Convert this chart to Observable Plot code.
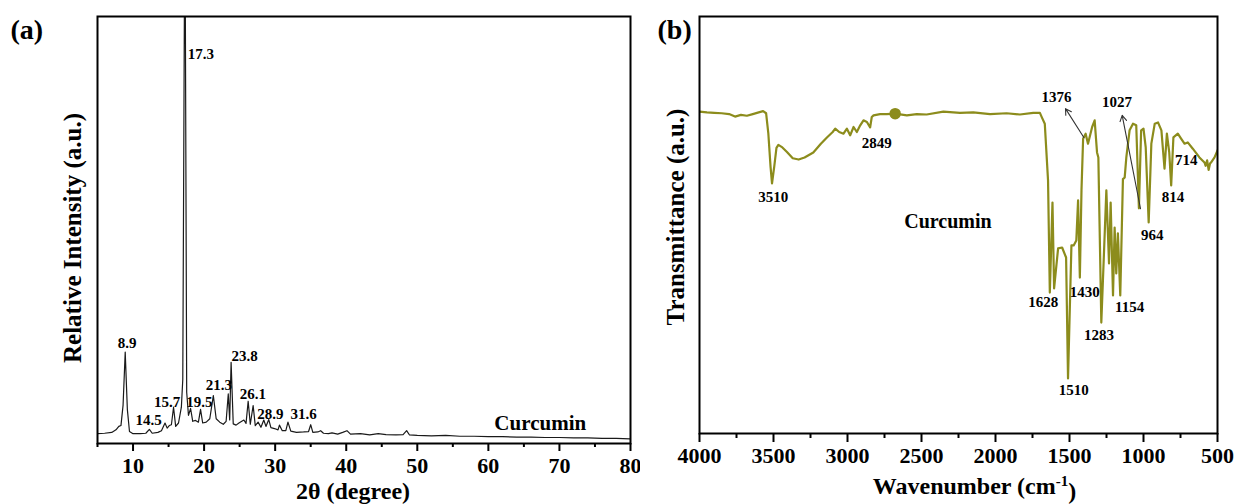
<!DOCTYPE html>
<html>
<head>
<meta charset="utf-8">
<script src="https://cdn.jsdelivr.net/npm/d3@7"></script>
<script src="https://cdn.jsdelivr.net/npm/@observablehq/plot@0.6"></script>
<style>
  html, body { margin: 0; padding: 0; background: #fff; }
  #wrap { position: relative; width: 1238px; height: 504px; overflow: hidden; background: #fff; }
  #pa { position: absolute; left: 0; top: 0; }
  #pb { position: absolute; left: 640px; top: 0; }
</style>
</head>
<body>
<div id="wrap"><div id="pa"></div><div id="pb"></div></div>
<script>
// ---------- (a) XRD ----------
const xrdTheta = [5, 6, 7, 7.6, 8.0, 8.3, 8.6, 8.9, 9.2, 9.5, 10, 11, 11.8, 12.3, 12.7, 13.5, 14.0, 14.5, 14.8, 15.1, 15.4, 15.7, 16.0, 16.4, 16.8, 17.0, 17.3, 17.55, 17.8, 18.1, 18.4, 18.8, 19.2, 19.5, 19.8, 20.3, 20.8, 21.3, 21.7, 22.2, 22.7, 23.1, 23.4, 23.6, 23.8, 24.1, 24.5, 24.9, 25.3, 25.6, 25.9, 26.2, 26.5, 26.9, 27.2, 27.6, 28.0, 28.4, 28.7, 29.1, 29.4, 29.9, 30.4, 30.6, 31.0, 31.5, 31.8, 32.2, 33.0, 34.0, 34.7, 35.0, 35.3, 36.0, 36.4, 36.8, 37.5, 38.0, 38.8, 39.5, 40.1, 40.6, 42.0, 43.3, 44.5, 45.6, 47.0, 48.0, 48.5, 48.9, 50, 52, 54, 56, 58, 60, 62, 64, 66, 68, 70, 72, 74, 76, 78, 80];
const xrdIntensity = [2.3, 2.4, 2.6, 3.2, 4.0, 4.2, 9.0, 21.4, 8.0, 2.8, 2.3, 2.3, 2.4, 3.3, 2.4, 2.6, 3.0, 4.8, 3.6, 4.2, 4.4, 8.5, 4.0, 4.8, 8.5, 15, 130, 12, 6.6, 8.2, 5.2, 5.4, 5.0, 8.0, 4.8, 5.0, 5.8, 11.2, 5.8, 5.0, 4.5, 5.2, 11.6, 5.5, 19.0, 4.6, 4.3, 4.8, 5.2, 5.5, 4.7, 9.9, 4.5, 8.9, 4.2, 5.0, 3.8, 5.5, 4.0, 5.6, 3.7, 3.5, 3.2, 4.3, 3.0, 3.0, 5.0, 2.9, 2.6, 2.7, 2.8, 4.4, 2.6, 2.7, 3.0, 2.4, 2.3, 2.5, 2.2, 2.6, 3.0, 2.2, 2.3, 2.0, 2.3, 2.1, 2.0, 2.1, 3.0, 2.0, 1.9, 1.8, 1.9, 1.7, 1.7, 1.6, 1.6, 1.5, 1.5, 1.4, 1.4, 1.3, 1.3, 1.2, 1.2, 1.1];
const xrdPeakLabels = ["8.9", "14.5", "15.7", "19.5", "21.3", "23.8", "26.1", "28.9", "31.6"];
const xrdLabelTheta = [9.18, 12.2, 14.8, 19.35, 22.07, 25.7, 26.85, 29.34, 34.0];
const xrdLabelI = [23.5, 5.4, 9.7, 9.7, 13.6, 20.4, 11.5, 6.8, 6.8];
const xrdMajorTicks = [10, 20, 30, 40, 50, 60, 70, 80];
const xrdMinorTicks = [5, 15, 25, 35, 45, 55, 65, 75];

// ---------- (b) FTIR ----------
const ftirWavenumber = [4000, 3950, 3900, 3850, 3800, 3760, 3720, 3680, 3640, 3600, 3570, 3550, 3535, 3520, 3510, 3495, 3480, 3467, 3440, 3409, 3370, 3330, 3290, 3231, 3180, 3139, 3100, 3083, 3056, 3027, 3004, 2982, 2959, 2937, 2914, 2892, 2869, 2847, 2836, 2824, 2780, 2735, 2678, 2599, 2532, 2465, 2352, 2240, 2150, 2037, 1925, 1835, 1745, 1700, 1689, 1667, 1645, 1633, 1615, 1604, 1577, 1550, 1523, 1510, 1487, 1472, 1454, 1442, 1430, 1419, 1408, 1391, 1375, 1347, 1330, 1314, 1305, 1285, 1251, 1233, 1222, 1206, 1195, 1184, 1173, 1157, 1139, 1127, 1116, 1094, 1071, 1049, 1031, 1016, 1000, 985, 965, 947, 924, 902, 879, 858, 842, 826, 813, 798, 768, 746, 723, 701, 667, 622, 588, 580, 570, 560, 550, 543, 520, 500];
const ftirTransmittance = [77.2, 77.0, 76.9, 76.8, 76.6, 76.0, 76.4, 76.2, 76.6, 77.0, 77.3, 76.8, 72, 64, 60.0, 64, 68.5, 69.2, 68.6, 67.5, 66.0, 65.7, 66.2, 67.4, 69.5, 71.0, 72.3, 73.1, 72.3, 71.9, 73.1, 71.5, 73.5, 72.3, 73.9, 75.1, 74.7, 73.4, 75.9, 76.3, 76.6, 76.6, 76.7, 76.3, 76.6, 76.5, 77.2, 76.9, 77.0, 76.6, 76.8, 76.5, 76.9, 76.9, 76.0, 74.3, 60.7, 33.8, 55.4, 34.8, 44.4, 44.6, 42.2, 13.2, 45.1, 45.1, 46.3, 55.9, 37.4, 58.3, 70.7, 71.9, 69.5, 73.5, 75.1, 67.4, 66.2, 26.6, 58.3, 40.8, 55.4, 33.1, 49.4, 38.4, 48.0, 33.1, 61.0, 61.4, 66.2, 72.7, 74.3, 73.9, 54.0, 72.7, 73.1, 68.6, 50.6, 69.5, 74.3, 74.6, 72.7, 63.5, 71.9, 67.4, 59.5, 71.0, 71.9, 70.7, 69.5, 69.8, 68.3, 66.2, 65.0, 64.2, 65.5, 63.2, 64.8, 65.0, 66.2, 67.9];
const ftirPeakLabels = ["3510", "2849", "1376", "1027", "714", "814", "964", "1628", "1430", "1154", "1283", "1510"];
const ftirLabelWn = [3501, 2802, 1588, 1179, 711, 801, 941, 1678, 1397, 1094, 1301, 1471];
const ftirLabelT = [56.6, 69.5, 80.7, 79.4, 65.5, 56.7, 47.5, 31.5, 33.9, 30.3, 23.5, 10.5];
const ftirArrowFromWn = [1403, 1020];
const ftirArrowFromT = [71.0, 53.9];
const ftirArrowToWn = [1527, 1144];
const ftirArrowToT = [77.9, 76.3];
const ftirMarkerWn = [2678];
const ftirMarkerT = [76.7];
const ftirMajorTicks = [4000, 3500, 3000, 2500, 2000, 1500, 1000, 500];
const ftirMinorTicks = [3750, 3250, 2750, 2250, 1750, 1250, 750];

const FONT = "'Liberation Serif', 'Times New Roman', serif";
const OLIVE = "#8c8c1c";

const xrd = xrdTheta.map((t, i) => ({t, I: xrdIntensity[i]}));
const xrdLabels = xrdPeakLabels.map((s, i) => ({s, t: xrdLabelTheta[i], I: xrdLabelI[i]}));
const ftir = ftirWavenumber.map((w, i) => ({w, T: ftirTransmittance[i]}));
const ftirLabels = ftirPeakLabels.map((s, i) => ({s, w: ftirLabelWn[i], T: ftirLabelT[i]}));
const arrows = ftirArrowFromWn.map((w, i) => ({w1: w, T1: ftirArrowFromT[i], w2: ftirArrowToWn[i], T2: ftirArrowToT[i]}));
const marker = ftirMarkerWn.map((w, i) => ({w, T: ftirMarkerT[i]}));

const plotA = Plot.plot({
  width: 640, height: 504,
  marginLeft: 97, marginRight: 10, marginTop: 16, marginBottom: 61,
  style: {fontFamily: FONT, fontWeight: "bold", color: "black", background: "white", overflow: "visible"},
  x: {domain: [5, 80]},
  y: {domain: [0, 100], axis: null},
  marks: [
    Plot.line(xrd, {x: "t", y: "I", stroke: "#1a1a1a", strokeWidth: 1.2, clip: true}),
    Plot.frame({stroke: "black", strokeWidth: 2}),
    Plot.axisX({ticks: xrdMajorTicks, tickSize: 8, tickPadding: 6, tickFormat: d => String(d), fontSize: 22, label: null, strokeWidth: 2}),
    Plot.axisX({ticks: xrdMinorTicks, tickSize: 4, tickFormat: () => "", label: null, strokeWidth: 2}),
    Plot.text(xrdLabels, {x: "t", y: "I", text: "s", fontSize: 15, fill: "black"}),
    Plot.text(["17.3"], {x: 17.7, y: 91.1, textAnchor: "start", fontSize: 15, fill: "black"}),
    Plot.text(["Curcumin"], {x: 67.3, y: 4.7, fontSize: 21, fill: "black"}),
    Plot.text(["Relative Intensity (a.u.)"], {frameAnchor: "left", textAnchor: "middle", lineAnchor: "middle", dx: -25, dy: 8, rotate: -90, fontSize: 25, fill: "black"}),
    Plot.text(["2θ (degree)"], {frameAnchor: "bottom", textAnchor: "middle", lineAnchor: "middle", dx: -11, dy: 48, fontSize: 24, fill: "black"}),
    Plot.text(["(a)"], {frameAnchor: "top-left", lineAnchor: "middle", dx: -87, dy: 14, textAnchor: "start", fontSize: 28, fill: "black"})
  ]
});
document.getElementById("pa").appendChild(plotA);

const plotB = Plot.plot({
  width: 598, height: 504,
  marginLeft: 59, marginRight: 21, marginTop: 16, marginBottom: 71,
  style: {fontFamily: FONT, fontWeight: "bold", color: "black", background: "white", overflow: "visible"},
  x: {domain: [4000, 500]},
  y: {domain: [0, 100], axis: null},
  marks: [
    Plot.line(ftir, {x: "w", y: "T", stroke: OLIVE, strokeWidth: 2.2, clip: true}),
    Plot.dot(marker, {x: "w", y: "T", r: 5, fill: OLIVE, stroke: OLIVE}),
    Plot.arrow(arrows, {x1: "w1", y1: "T1", x2: "w2", y2: "T2", stroke: "#333", strokeWidth: 1.1, headLength: 9}),
    Plot.frame({stroke: "black", strokeWidth: 2}),
    Plot.axisX({ticks: ftirMajorTicks, tickSize: 9, tickPadding: 5, tickFormat: d => String(d), fontSize: 22, label: null, strokeWidth: 2}),
    Plot.axisX({ticks: ftirMinorTicks, tickSize: 5, tickFormat: () => "", label: null, strokeWidth: 2}),
    Plot.text(ftirLabels, {x: "w", y: "T", text: "s", fontSize: 15, fill: "black"}),
    Plot.text(["Curcumin"], {x: 2321, y: 50.7, fontSize: 20, fill: "black"}),
    Plot.text(["Transmittance (a.u.)"], {frameAnchor: "left", textAnchor: "middle", lineAnchor: "middle", dx: -24, dy: -8, rotate: -90, fontSize: 25, fill: "black"}),
    Plot.text(["Wavenumber (cm-1)"], {frameAnchor: "bottom", textAnchor: "middle", lineAnchor: "middle", dx: 16, dy: 53, fontSize: 24, fill: "black"}),
    Plot.text(["(b)"], {frameAnchor: "top-left", lineAnchor: "middle", dx: -42, dy: 14, textAnchor: "start", fontSize: 28, fill: "black"})
  ]
});
document.getElementById("pb").appendChild(plotB);

// superscript for the unit
d3.select(plotB).selectAll("text").filter(function() { return this.textContent === "Wavenumber (cm-1)"; })
  .each(function() {
    const t = d3.select(this);
    t.text(null);
    t.append("tspan").text("Wavenumber (cm");
    t.append("tspan").attr("font-size", 15).attr("dy", "-0.55em").text("-1");
    t.append("tspan").attr("dy", "0.55em").text(")");
  });
</script>
</body>
</html>
